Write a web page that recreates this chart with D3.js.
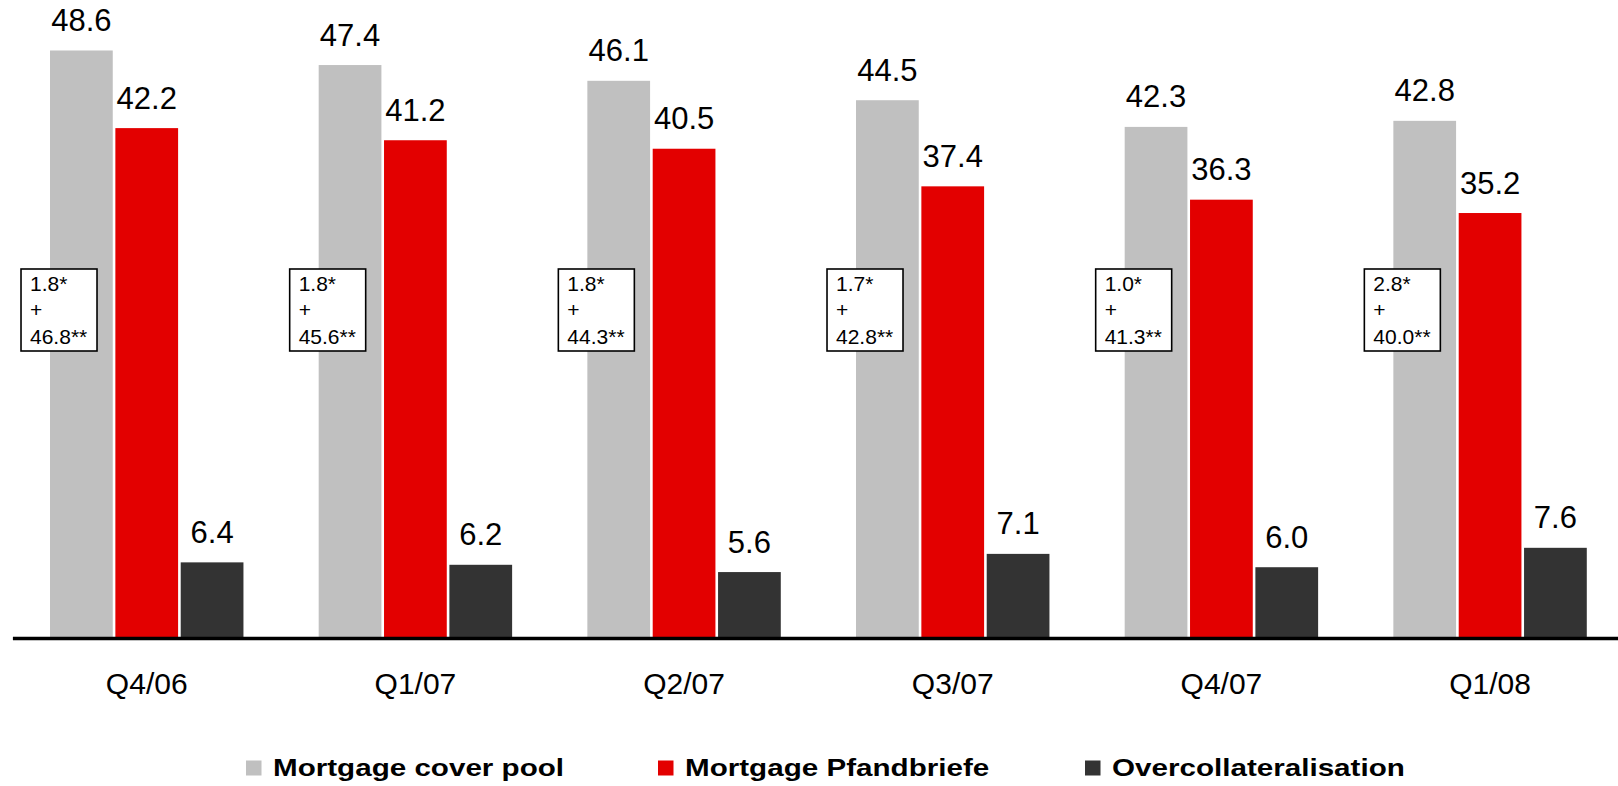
<!DOCTYPE html>
<html>
<head>
<meta charset="utf-8">
<script src="https://cdn.jsdelivr.net/npm/d3@7"></script>
<style>
  html, body { margin: 0; padding: 0; background: #fff; }
  svg { display: block; font-family: 'Liberation Sans', Arial, sans-serif; }
</style>
</head>
<body>
<div id="chart"></div>
<script>
const quarters = ['Q4/06', 'Q1/07', 'Q2/07', 'Q3/07', 'Q4/07', 'Q1/08'];
const seriesNames = ['Mortgage cover pool', 'Mortgage Pfandbriefe', 'Overcollateralisation'];
const coverPool = [48.6, 47.4, 46.1, 44.5, 42.3, 42.8];
const pfandbriefe = [42.2, 41.2, 40.5, 37.4, 36.3, 35.2];
const overcoll = [6.4, 6.2, 5.6, 7.1, 6.0, 7.6];
// breakdown of the cover pool shown in the boxes
const poolPartA = ['1.8', '1.8', '1.8', '1.7', '1.0', '2.8'];
const poolPartB = ['46.8', '45.6', '44.3', '42.8', '41.3', '40.0'];

const colors = ['#c0c0c0', '#e30000', '#333333'];

const width = 1618;
const height = 786;

const svg = d3.select('#chart')
  .append('svg')
  .attr('width', width)
  .attr('height', height);

const x0 = d3.scaleBand()
  .domain(quarters)
  .range([12.4, 1624.4])
  .paddingInner(0.28)
  .paddingOuter(0.14);

const x1 = d3.scaleBand()
  .domain(seriesNames)
  .range([0, x0.bandwidth()])
  .paddingInner(0.04);

const y = d3.scaleLinear()
  .domain([0, 50])
  .range([640, 33.5]);

const rows = quarters.map((q, i) => ({
  q,
  values: [coverPool[i], pfandbriefe[i], overcoll[i]].map((v, j) => ({ key: seriesNames[j], v, j })),
  a: poolPartA[i],
  b: poolPartB[i],
}));

const groups = svg.selectAll('.group')
  .data(rows)
  .enter()
  .append('g')
  .attr('class', 'group')
  .attr('transform', d => `translate(${x0(d.q)},0)`);

groups.selectAll('rect.bar')
  .data(d => d.values)
  .enter()
  .append('rect')
  .attr('class', 'bar')
  .attr('x', d => x1(d.key))
  .attr('y', d => y(d.v))
  .attr('width', x1.bandwidth())
  .attr('height', d => y(0) - y(d.v))
  .attr('fill', d => colors[d.j]);

groups.selectAll('text.value')
  .data(d => d.values)
  .enter()
  .append('text')
  .attr('class', 'value')
  .attr('x', d => x1(d.key) + x1.bandwidth() / 2)
  .attr('y', d => y(d.v) - 19.5)
  .attr('text-anchor', 'middle')
  .attr('font-size', '31px')
  .attr('fill', '#000')
  .text(d => d3.format('.1f')(d.v));

// annotation boxes
const box = groups.append('g')
  .attr('transform', 'translate(-29,269)');

box.append('rect')
  .attr('width', 76)
  .attr('height', 82)
  .attr('fill', '#fff')
  .attr('stroke', '#000')
  .attr('stroke-width', 1.6);

box.append('text')
  .attr('font-size', '21px')
  .attr('fill', '#000')
  .selectAll('tspan')
  .data(d => [d.a + '*', '+', d.b + '**'])
  .enter()
  .append('tspan')
  .attr('x', 9)
  .attr('y', (d, i) => [22, 48, 75][i])
  .text(d => d);

// x axis
const axis = svg.append('g')
  .attr('transform', 'translate(0,638)')
  .call(d3.axisBottom(x0).tickSize(0).tickPadding(34.5));

axis.select('.domain')
  .attr('stroke', '#000')
  .attr('stroke-width', 3.5);

axis.selectAll('text')
  .attr('font-size', '30px')
  .attr('font-family', "'Liberation Sans', Arial, sans-serif")
  .attr('fill', '#000');

// legend (item left edges)
const legendX = [246, 658, 1085];
const legend = svg.append('g').attr('class', 'legend');
seriesNames.forEach((name, i) => {
  const item = legend.append('g').attr('transform', `translate(${legendX[i]},0)`);
  item.append('rect')
    .attr('x', 0)
    .attr('y', 760.5)
    .attr('width', 15.5)
    .attr('height', 15)
    .attr('fill', colors[i]);
  item.append('text')
    .attr('transform', 'translate(27,775.7) scale(1.26,1)')
    .attr('font-size', '23.5px')
    .attr('font-weight', 'bold')
    .attr('fill', '#000')
    .text(name);
});
</script>
</body>
</html>
